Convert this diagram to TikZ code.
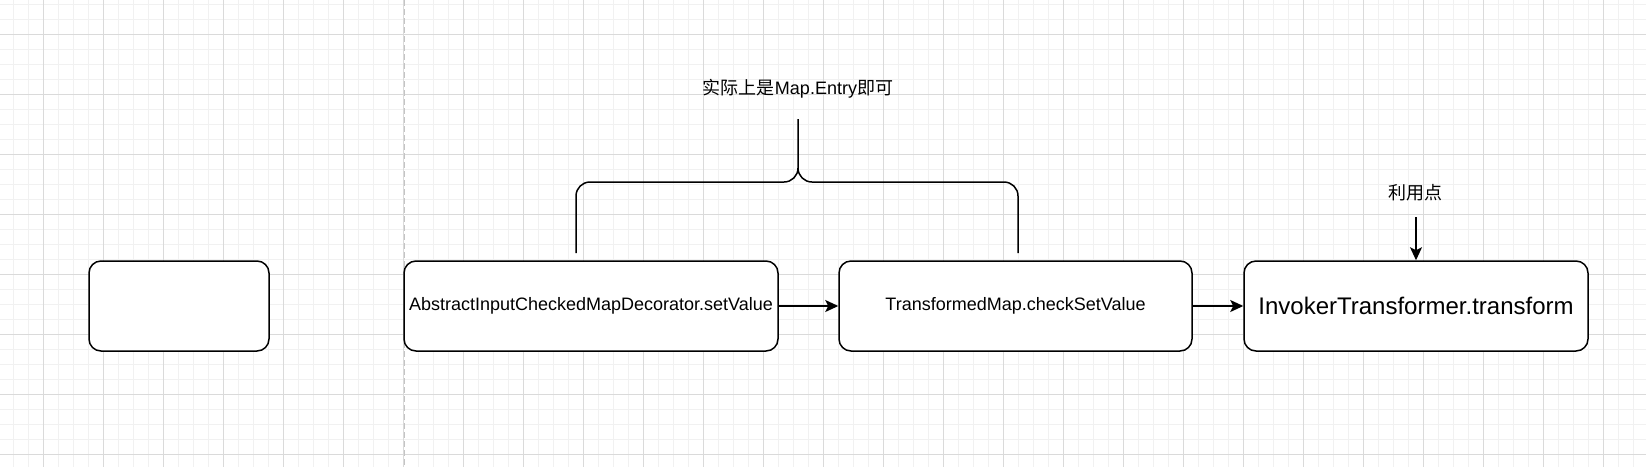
\documentclass[tikz,border=0pt]{standalone}
\usepackage{fontspec}
\setmainfont{Liberation Sans}
\newfontfamily\cjk{Noto Sans CJK SC}
\usetikzlibrary{arrows.meta}
\definecolor{gmajor}{HTML}{DADADA}
\definecolor{gminor}{HTML}{F1F1F1}
\definecolor{gdash}{HTML}{C4C4C4}
\tikzset{
  box/.style={draw=black, line width=1.5pt, rounded corners=12pt, fill=white,
    minimum height=90pt, inner sep=0pt, align=center, font=\fontsize{18}{22}\selectfont},
  conn/.style={draw=black, line width=1.5pt, -{Stealth[length=13pt,width=12pt,inset=3pt]}},
  lbl/.style={inner sep=0pt, font=\fontsize{18}{22}\selectfont},
  brace/.style={draw=black, line width=1.5pt}
}
\begin{document}
\begin{tikzpicture}[x=1pt,y=-1pt]
\useasboundingbox (0,0) rectangle (1646,467);
\fill[white] (0,0) rectangle (1646,467);
\begin{scope}
\clip (0,0) rectangle (1646,467);
\foreach \i in {0,...,110} \draw[gminor, line width=0.8pt] ({-1.7+15*\i},0) -- ({-1.7+15*\i},467);
\foreach \i in {0,...,31} \draw[gminor, line width=0.8pt] (0,{4.3+15*\i}) -- (1646,{4.3+15*\i});
\foreach \i in {0,...,28} \draw[gmajor, line width=0.8pt] ({-16.7+60*\i},0) -- ({-16.7+60*\i},467);
\foreach \i in {0,...,8} \draw[gmajor, line width=0.8pt] (0,{-25.7+60*\i}) -- (1646,{-25.7+60*\i});
\draw[gdash, line width=1pt, dash pattern=on 6pt off 3pt] (404,0) -- (404,467);
\end{scope}

\node[box, minimum width=180pt] (b1) at (179,306) {};
\node[box, minimum width=374pt] (b2) at (591,306) {AbstractInputCheckedMapDecorator.setValue};
\node[box, minimum width=353pt] (b3) at (1015.5,306) {TransformedMap.checkSetValue};
\node[box, minimum width=344pt, font=\fontsize{24}{28}\selectfont] (b4) at (1416,306) {InvokerTransformer.transform};

\draw[conn] (b2.east) -- (b3.west);
\draw[conn] (b3.east) -- (b4.west);

\node[lbl] (note) at (798,89) {{\cjk 实际上是}Map.Entry{\cjk 即可}};
\coordinate (bl) at (576,253);
\coordinate (br) at (1018,253);
\coordinate (bt) at (798,119);
\draw[brace] (bl) -- (576,196) to[out=90,in=180] (590,182) -- (784,182) to[out=0,in=-90] (798,168) -- (bt);
\draw[brace] (br) -- (1018,196) to[out=90,in=0] (1004,182) -- (812,182) to[out=180,in=-90] (798,168);

\node[lbl] (use) at (1415,193) {\cjk 利用点};
\coordinate (uset) at (1416,217);
\draw[conn] (uset) -- (b4.north);
\end{tikzpicture}
\end{document}
